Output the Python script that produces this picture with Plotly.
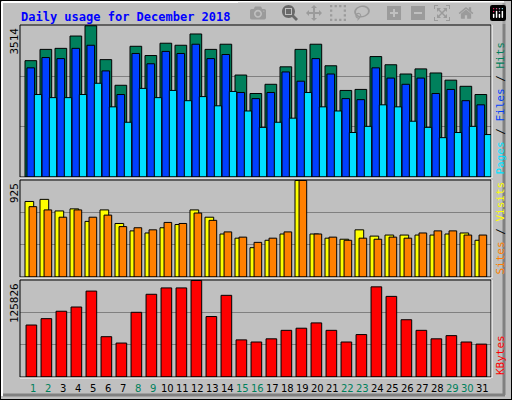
import plotly.graph_objects as go

days = list(range(1, 32))
day_labels = [str(d) for d in days]
weekend = [1, 2, 8, 9, 15, 16, 22, 23, 29, 30]
hits = [2703,2965,2989,3275,3514,2727,2131,3037,2822,3108,3061,3323,2965,3085,2369,1940,2154,2560,2965,3085,2584,2011,2035,2798,2608,2393,2512,2417,2250,2107,1916]
files = [2536,2775,2751,2989,3061,2465,1916,2870,2631,2918,2870,3085,2751,2846,1964,1821,1964,2441,2226,2751,2393,1821,1797,2536,2298,2154,2298,1940,2035,1773,1677]
pages = [1916,1844,1844,1916,2178,1630,1272,2059,1844,2011,1773,1868,1654,1988,1534,1153,1272,1367,1964,1630,1534,1034,1177,1677,1630,1296,1153,914,1034,1177,986]
visits = [724,744,633,653,533,643,513,442,422,472,503,643,573,412,372,281,352,412,925,412,372,362,452,392,402,402,402,402,412,422,352]
sites = [674,643,573,643,573,593,483,472,452,523,513,613,543,432,382,332,372,432,925,412,382,352,372,362,382,372,422,442,442,402,402]
kbytes = [67752,76049,85727,91258,111999,52543,44246,84345,107851,116147,116147,125826,78814,106469,48395,45629,49777,60839,63604,70518,60839,45629,55308,117530,105086,74666,60839,49777,53926,45629,42864]

W, H = 512, 400
def px(x): return x / W
def py(y): return 1 - y / H

fig = go.Figure()
line = dict(color="black", width=1)
def bars(y, color, off, wid, ax):
    fig.add_trace(go.Bar(x=days, y=y, offset=off, width=wid, marker=dict(color=color, line=line),
                         xaxis="x" + ax, yaxis="y" + ax, showlegend=False))

bars(hits, "#00805C", 0, 0.78, "")
bars(files, "#0040FF", 0.13, 0.51, "")
bars(pages, "#00E0FF", 0.62, 0.49, "")
bars(visits, "#FFFF00", 0, 0.58, "2")
bars(sites, "#FF8000", 0.27, 0.51, "2")
bars(kbytes, "#FF0000", 0.07, 0.71, "3")

xr = [1 - 5/15, 1 + 466/15]
xdom = [px(20), px(491)]
panels = [("", 25, 177, max(hits)), ("2", 180, 277, max(visits)), ("3", 280, 377, max(kbytes))]
lay = {}
for ax, top, bot, m in panels:
    lay["xaxis" + ax] = dict(domain=xdom, range=xr, showticklabels=False, showgrid=False, zeroline=False,
                             anchor="y" + ax, ticks="")
    lay["yaxis" + ax] = dict(domain=[py(bot), py(top)], range=[0, m * 1.005], tickvals=[m/3, 2*m/3],
                             showticklabels=False, gridcolor="#808080", gridwidth=1, zeroline=False,
                             anchor="x" + ax)
fig.update_layout(**lay)

shapes = [dict(type="rect", xref="paper", yref="paper", x0=0, y0=0, x1=1, y1=1,
               line=dict(color="black", width=2), fillcolor="rgba(0,0,0,0)", layer="above"),
          dict(type="line", xref="paper", yref="paper", x0=px(504), x1=px(504), y0=py(3), y1=py(395),
               line=dict(color="#808080", width=3)),
          dict(type="line", xref="paper", yref="paper", x0=px(3), x1=px(505), y0=py(395), y1=py(395),
               line=dict(color="#808080", width=3)),
          dict(type="line", xref="paper", yref="paper", x0=px(2), x1=px(2), y0=py(2), y1=py(396),
               line=dict(color="white", width=2)),
          dict(type="line", xref="paper", yref="paper", x0=px(2), x1=px(504), y0=py(2), y1=py(2),
               line=dict(color="white", width=2))]
for ax, top, bot, m in panels:
    shapes.append(dict(type="rect", xref="paper", yref="paper", x0=px(20), x1=px(491), y0=py(bot), y1=py(top),
                       line=dict(color="black", width=1), layer="above"))
    shapes.append(dict(type="line", xref="paper", yref="paper", x0=px(20), x1=px(491), y0=py(bot+1), y1=py(bot+1),
                       line=dict(color="white", width=1)))
    shapes.append(dict(type="line", xref="paper", yref="paper", x0=px(492), x1=px(492), y0=py(bot+1), y1=py(top),
                       line=dict(color="white", width=1)))

font = "DejaVu Sans Mono"
ann = [dict(text="<b>Daily usage for December 2018</b>", x=px(19), y=py(8), xref="paper", yref="paper",
            xanchor="left", yanchor="top", showarrow=False, font=dict(family=font, size=12, color="#0000FF"))]
for (ax, top, bot, m), lbl in zip(panels, [str(max(hits)), str(max(visits)), str(max(kbytes))]):
    ann.append(dict(text=lbl, textangle=-90, x=px(14), y=py(top+1), xref="paper", yref="paper",
                    xanchor="center", yanchor="top", showarrow=False, font=dict(family=font, size=11, color="black")))
right = [('<span style="color:#00E0FF">Pages</span> / <span style="color:#0040FF">Files</span> / <span style="color:#00805C">Hits</span>', 177),
         ('<span style="color:#FF8000">Sites</span> / <span style="color:#FFFF00">Visits</span>', 277),
         ('<span style="color:#FF0000">KBytes</span>', 377)]
for t, bot in right:
    ann.append(dict(text=t, textangle=-90, x=px(500), y=py(bot), xref="paper", yref="paper",
                    xanchor="center", yanchor="bottom", showarrow=False, font=dict(family=font, size=11, color="black")))
for d, l in zip(days, day_labels):
    ann.append(dict(text=l, x=d + 0.53, y=py(388), xref="x3", yref="paper", showarrow=False,
                    xanchor="center", yanchor="middle",
                    font=dict(family="DejaVu Sans", size=10, color="#00805C" if d in weekend else "black")))

fig.update_layout(width=W, height=H, margin=dict(l=0, r=0, t=0, b=0), paper_bgcolor="#C0C0C0",
                  plot_bgcolor="#C0C0C0", barmode="overlay", shapes=shapes, annotations=ann)
fig.write_html("out.html", post_script="document.body.style.margin='0';document.body.style.overflow='hidden';")
